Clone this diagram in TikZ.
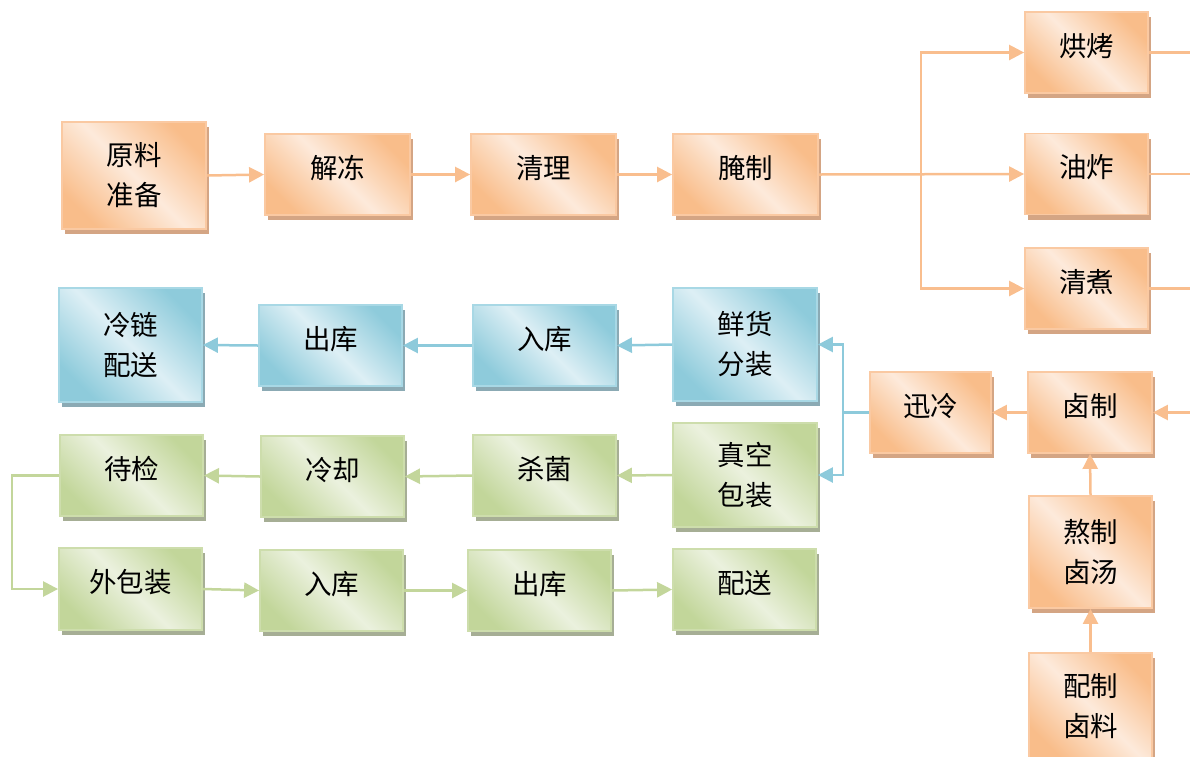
\documentclass[tikz,border=0pt]{standalone}
\usepackage{fontspec}
\setmainfont{Noto Sans CJK SC}
\usetikzlibrary{arrows.meta,shadows,calc}
\definecolor{oD}{HTML}{F9BD8A}
\definecolor{oL}{HTML}{FDEADB}
\definecolor{oB}{HTML}{FAC9A2}
\definecolor{oS}{HTML}{D4A584}
\definecolor{oLine}{HTML}{F9BE8E}
\definecolor{bD}{HTML}{8ECBDB}
\definecolor{bL}{HTML}{DDEFF5}
\definecolor{bB}{HTML}{A8D8E5}
\definecolor{bS}{HTML}{8BAAB4}
\definecolor{bLine}{HTML}{8DCADB}
\definecolor{gD}{HTML}{C2D69A}
\definecolor{gL}{HTML}{EBF1DE}
\definecolor{gB}{HTML}{CDDDAC}
\definecolor{gS}{HTML}{A6AE95}
\definecolor{gLine}{HTML}{C3D69B}
\newcommand{\oneline}[1]{\raisebox{6.5pt}[\height][\depth]{#1}}
\tikzset{
  box/.style={draw, line width=1.8pt, inner sep=0pt, align=center,
    font=\fontsize{27.5}{40}\selectfont, text=black},
  obox/.style={box, draw=oB, top color=oD, bottom color=oD, middle color=oL, shading angle=-45,
    general shadow={fill=oS, shadow xshift=3pt, shadow yshift=-5pt}},
  bbox/.style={box, draw=bB, top color=bD, bottom color=bD, middle color=bL, shading angle=-45,
    general shadow={fill=bS, shadow xshift=3pt, shadow yshift=-5pt}},
  gbox/.style={box, draw=gB, top color=gD, bottom color=gD, middle color=gL, shading angle=-45,
    general shadow={fill=gS, shadow xshift=3pt, shadow yshift=-5pt}},
  conn/.style={line width=2.5pt},
  tip/.style={-{Triangle[length=15pt,width=15pt]}},
  oline/.style={conn, draw=oLine},
  bline/.style={conn, draw=bLine},
  gline/.style={conn, draw=gLine},
  oarr/.style={oline, tip},
  barr/.style={bline, tip},
  garr/.style={gline, tip},
}
\begin{document}
\begin{tikzpicture}[x=1pt,y=-1pt]
\useasboundingbox (0,0) rectangle (1190,756);
% orange boxes
\node[obox, minimum width=144pt, minimum height=107pt] (yl) at (134,175.5) {原料\\准备};
\node[obox, minimum width=145pt, minimum height=81pt] (jd) at (337.5,174.5) {\oneline{解冻}};
\node[obox, minimum width=145pt, minimum height=81pt] (ql) at (543.5,174.5) {\oneline{清理}};
\node[obox, minimum width=145pt, minimum height=81pt] (yz) at (745.5,174.5) {\oneline{腌制}};
\node[obox, minimum width=123pt, minimum height=81pt] (hk) at (1086.5,52.5) {\oneline{烘烤}};
\node[obox, minimum width=123pt, minimum height=81pt] (yc) at (1086.5,174) {\oneline{油炸}};
\node[obox, minimum width=123pt, minimum height=81pt] (qz) at (1086.5,288.5) {\oneline{清煮}};
\node[obox, minimum width=121pt, minimum height=81pt] (xl) at (930.5,412.5) {\oneline{迅冷}};
\node[obox, minimum width=124pt, minimum height=81pt] (lz) at (1090,412.5) {\oneline{卤制}};
\node[obox, minimum width=123pt, minimum height=112pt] (ao) at (1090.5,552) {熬制\\卤汤};
\node[obox, minimum width=123pt, minimum height=107pt] (pz) at (1090.5,706.5) {配制\\卤料};
% blue boxes
\node[bbox, minimum width=143pt, minimum height=114pt] (ll) at (130.5,345) {冷链\\配送};
\node[bbox, minimum width=143pt, minimum height=81pt] (ck1) at (330.5,345.5) {\oneline{出库}};
\node[bbox, minimum width=143pt, minimum height=81pt] (rk1) at (544.5,345.5) {\oneline{入库}};
\node[bbox, minimum width=144pt, minimum height=113pt] (xh) at (745,344.5) {鲜货\\分装};
% green boxes
\node[gbox, minimum width=143pt, minimum height=81pt] (dj) at (131.5,475.5) {\oneline{待检}};
\node[gbox, minimum width=143pt, minimum height=81pt] (lq) at (332.5,476.5) {\oneline{冷却}};
\node[gbox, minimum width=143pt, minimum height=81pt] (sj) at (544.5,475.5) {\oneline{杀菌}};
\node[gbox, minimum width=144pt, minimum height=104pt] (zk) at (745,475) {真空\\包装};
\node[gbox, minimum width=143pt, minimum height=82pt] (wb) at (130.5,589) {\oneline{外包装}};
\node[gbox, minimum width=143pt, minimum height=81pt] (rk2) at (331.5,590.5) {\oneline{入库}};
\node[gbox, minimum width=143pt, minimum height=81pt] (ck2) at (539.5,590.5) {\oneline{出库}};
\node[gbox, minimum width=143pt, minimum height=81pt] (ps) at (744.5,589.5) {\oneline{配送}};
% edge coordinates
\coordinate (e1) at (1190,52.5);
\coordinate (e2) at (1190,174);
\coordinate (e3) at (1190,288.5);
\coordinate (e4) at (1190,412.5);
\coordinate (br) at (921,174);
\coordinate (bb) at (843,412.5);
\coordinate (gl) at (12,475.5);
% orange connectors
\draw[oarr] (yl.east) -- (jd.west);
\draw[oarr] (jd.east) -- (ql.west);
\draw[oarr] (ql.east) -- (yz.west);
\draw[oarr] (yz.east) -- (yc.west);
\draw[oarr] (br) |- (hk.west);
\draw[oarr] (br) |- (qz.west);
\draw[oline] (hk.east) -- (e1);
\draw[oline] (yc.east) -- (e2);
\draw[oline] (qz.east) -- (e3);
\draw[oarr] (e4) -- (lz.east);
\draw[oarr] (lz.west) -- (xl.east);
\draw[oarr] (ao.north) -- (lz.south);
\draw[oarr] (pz.north) -- (ao.south);
% blue connectors
\draw[bline] (xl.west) -- (bb);
\draw[barr] (bb) |- (xh.east);
\draw[barr] (bb) |- (zk.east);
\draw[barr] (xh.west) -- (rk1.east);
\draw[barr] (rk1.west) -- (ck1.east);
\draw[barr] (ck1.west) -- (ll.east);
% green connectors
\draw[garr] (zk.west) -- (sj.east);
\draw[garr] (sj.west) -- (lq.east);
\draw[garr] (lq.west) -- (dj.east);
\draw[garr] (dj.west) -- (gl) |- (wb.west);
\draw[garr] (wb.east) -- (rk2.west);
\draw[garr] (rk2.east) -- (ck2.west);
\draw[garr] (ck2.east) -- (ps.west);
\end{tikzpicture}
\end{document}
